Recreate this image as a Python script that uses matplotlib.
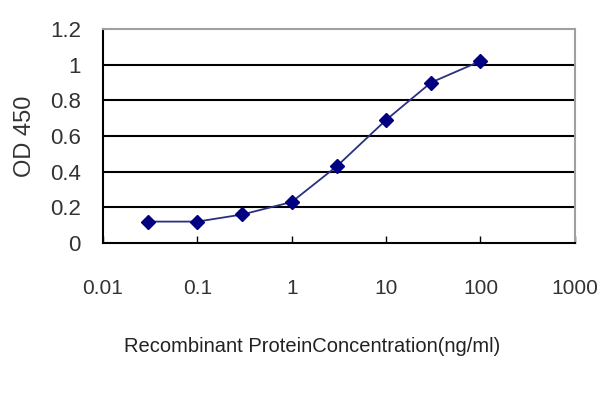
import matplotlib
matplotlib.use('Agg')
import matplotlib.pyplot as plt
import matplotlib.ticker as ticker

# concentration (ng/ml) and OD 450 readings
conc = [0.03, 0.1, 0.3, 1, 3, 10, 30, 100]
od450 = [0.12, 0.12, 0.16, 0.23, 0.43, 0.69, 0.90, 1.02]
xticks = [0.01, 0.1, 1, 10, 100, 1000]
xtick_labels = ['0.01', '0.1', '1', '10', '100', '1000']
yticks = [0, 0.2, 0.4, 0.6, 0.8, 1, 1.2]
ytick_labels = ['0', '0.2', '0.4', '0.6', '0.8', '1', '1.2']

plt.rcParams['font.family'] = ['Liberation Sans', 'DejaVu Sans']

fig = plt.figure(figsize=(6, 4), dpi=100)
ax = fig.add_axes([0.1717, 0.3925, 0.7863, 0.535])

# horizontal gridlines
for y in yticks[1:-1]:
    ax.axhline(y, color='black', lw=1.5, zorder=1)

ax.plot(conc, od450, color='#2a3080', lw=1.3, marker='D', markersize=7,
        markerfacecolor='#000080', markeredgecolor='#000080', zorder=3)

ax.set_xscale('log')
ax.set_xlim(0.01, 1000)
ax.set_ylim(0, 1.2)
ax.xaxis.set_major_locator(ticker.FixedLocator(xticks))
ax.xaxis.set_minor_locator(ticker.NullLocator())
ax.set_xticklabels(xtick_labels, fontsize=15, color='#333333')
ax.set_yticks(yticks)
ax.set_yticklabels(ytick_labels, fontsize=16, color='#333333')

ax.tick_params(axis='x', direction='in', length=5, width=1, pad=26, color='black')
ax.tick_params(axis='y', length=0, pad=16)

ax.spines['left'].set_color('black')
ax.spines['bottom'].set_color('black')
ax.spines['left'].set_linewidth(1.5)
ax.spines['bottom'].set_linewidth(1.5)
ax.spines['top'].set_color('#a0a0a0')
ax.spines['right'].set_color('#a0a0a0')
ax.spines['top'].set_linewidth(1.5)
ax.spines['right'].set_linewidth(1.5)

ax.set_ylabel('OD 450', fontsize=17, labelpad=10, color='#333333')
ax.set_xlabel('Recombinant ProteinConcentration(ng/ml)', fontsize=14.5,
              labelpad=30, color='#222222')
ax.xaxis.set_label_coords(0.443, -0.44)

fig.savefig('out.png', dpi=100)
